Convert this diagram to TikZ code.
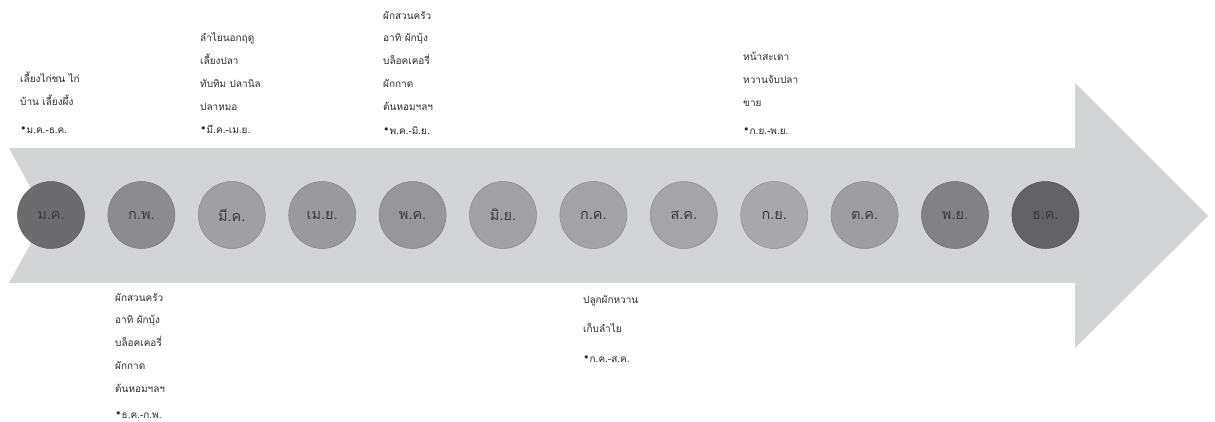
\documentclass[tikz,border=0pt]{standalone}
\usepackage{fontspec}
\newfontfamily\thaifont[Script=Thai]{Loma}
\newfontfamily\symfont{DejaVu Sans}
\definecolor{shaftgray}{HTML}{D3D4D6}
\definecolor{labgray}{HTML}{3C3C3E}
\definecolor{txtgray}{HTML}{2A2A2A}
\definecolor{mA}{HTML}{6C6C6E}
\definecolor{mB}{HTML}{8C8C8E}
\definecolor{mC}{HTML}{A0A0A2}
\definecolor{mD}{HTML}{9A9A9C}
\definecolor{mE}{HTML}{979799}
\definecolor{mF}{HTML}{A1A1A3}
\definecolor{mG}{HTML}{A3A3A5}
\definecolor{mH}{HTML}{A5A5A7}
\definecolor{mI}{HTML}{A8A8AA}
\definecolor{mJ}{HTML}{9E9EA0}
\definecolor{mK}{HTML}{828284}
\definecolor{mL}{HTML}{636365}
\newcommand{\bul}{{\symfont\fontsize{11}{11}\selectfont\raisebox{0.2pt}{•}}}
\tikzset{
  month/.style={circle, minimum size=67pt, inner sep=0pt, text=labgray,
    font=\thaifont\fontsize{14.5}{16}\selectfont},
  note/.style={anchor=base west, align=left, inner sep=0pt, text=txtgray,
    font=\thaifont\fontsize{10}{22.8}\selectfont},
}
\begin{document}
\begin{tikzpicture}[x=1pt,y=-1pt]
\useasboundingbox (0,0) rectangle (1215,421);

% timeline arrow
\fill[shaftgray] (9,148) -- (1075,148) -- (1075,83) -- (1208,216)
  -- (1075,348) -- (1075,283) -- (9,283) -- (46,216) -- cycle;

% months
\foreach \lab/\shade [count=\i] in {ม.ค./mA, ก.พ./mB, มี.ค./mC, เม.ย./mD, พ.ค./mE, มิ.ย./mF,
    ก.ค./mG, ส.ค./mH, ก.ย./mI, ต.ค./mJ, พ.ย./mK, ธ.ค./mL}
  \node[month, fill=\shade, draw=\shade!85!black, line width=0.5pt] (m\i) at ({51+(\i-1)*90.4},215) {\lab};

% activities above (anchored at the date line)
\node[note] (jan) at (20,133) {เลี้ยงไก่ชน ไก่\\ บ้าน เลี้ยงผึ้ง\\[5pt] \bul ม.ค.-ธ.ค.};
\node[note] (mar) at (200,133) {ลำไยนอกฤดู\\ เลี้ยงปลา\\ ทับทิม ปลานิล\\ ปลาหมอ\\ \bul มี.ค.-เม.ย.};
\node[note] (may) at (383,134) {ผักสวนครัว\\ อาทิ ผักบุ้ง\\ บล็อคเคอรี่\\ ผักกาด\\ ต้นหอมฯลฯ\\[1pt] \bul พ.ค.-มิ.ย.};
\node[note] (sep) at (743,134) {หน้าสะเดา\\ หวานจับปลา\\ ขาย\\[5pt] \bul ก.ย.-พ.ย.};

% activities below
\node[note] (dec) at (115,418) {ผักสวนครัว\\ อาทิ ผักบุ้ง\\ บล็อคเคอรี่\\ ผักกาด\\ ต้นหอมฯลฯ\\[3pt] \bul ธ.ค.-ก.พ.};
\node[note, font=\thaifont\fontsize{10}{29.5}\selectfont] (jul) at (583,362) {ปลูกผักหวาน\\ เก็บลำไย\\ \bul ก.ค.-ส.ค.};
\end{tikzpicture}
\end{document}
